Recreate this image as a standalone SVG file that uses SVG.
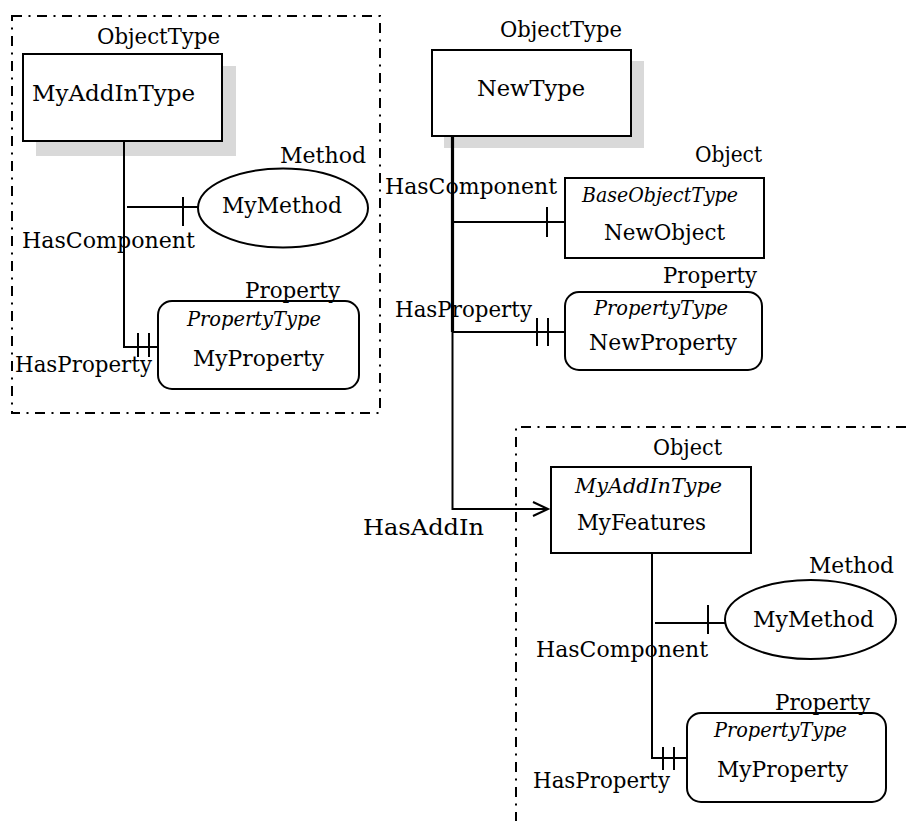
<svg xmlns="http://www.w3.org/2000/svg" width="906" height="821" viewBox="0 0 906 821">
<style>
  .t { font-family: "DejaVu Serif", "Liberation Serif", serif; font-size: 23px; fill: #000; }
  .i { font-family: "DejaVu Serif", "Liberation Serif", serif; font-size: 20px; font-style: italic; fill: #000; }
  .box { fill: #fff; stroke: #000; stroke-width: 2; }
  .shadow { fill: #d9d9d9; stroke: none; }
  .frame { fill: none; stroke: #000; stroke-width: 2; stroke-dasharray: 10 6.5 2 6.5; }
  .ln { fill: none; stroke: #000; stroke-width: 2; }
  .trunk { fill: none; stroke: #000; stroke-width: 3.2; }
</style>
<defs>
  <marker id="open" markerWidth="20" markerHeight="20" refX="16" refY="8" orient="auto" markerUnits="userSpaceOnUse">
    <path d="M1 1 L16 8 L1 15" fill="none" stroke="#000" stroke-width="2"/>
  </marker>
</defs>
<rect fill="#fff" x="0" y="0" width="906" height="821"/>

<!-- frames -->
<g id="frame-left">
  <rect class="frame" x="12" y="16" width="368" height="397"/>
</g>
<g id="frame-right">
  <path class="frame" d="M906 427 H516 V821"/>
</g>

<!-- left group nodes -->
<g id="node-myaddintype">
  <rect class="shadow" x="36" y="66" width="200" height="90"/>
  <rect class="box" x="23" y="54" width="199" height="87"/>
  <text class="t" x="97" y="44" textLength="123" lengthAdjust="spacingAndGlyphs">ObjectType</text>
  <text class="t" x="32" y="101" textLength="163" lengthAdjust="spacingAndGlyphs">MyAddInType</text>
</g>
<g id="node-mymethod-left">
  <ellipse class="box" cx="283" cy="208" rx="85" ry="39.5"/>
  <text class="t" x="280" y="163" textLength="86" lengthAdjust="spacingAndGlyphs">Method</text>
  <text class="t" x="222" y="213" textLength="120" lengthAdjust="spacingAndGlyphs">MyMethod</text>
</g>
<g id="node-myproperty-left">
  <rect class="box" x="158" y="301" width="201" height="88" rx="14" ry="14"/>
  <text class="t" x="245" y="298" textLength="95" lengthAdjust="spacingAndGlyphs">Property</text>
  <text class="i" x="187" y="326" textLength="134" lengthAdjust="spacingAndGlyphs">PropertyType</text>
  <text class="t" x="193" y="366" textLength="131" lengthAdjust="spacingAndGlyphs">MyProperty</text>
</g>

<!-- center group nodes -->
<g id="node-newtype">
  <rect class="shadow" x="444" y="61" width="200" height="87"/>
  <rect class="box" x="432" y="50" width="199" height="86"/>
  <text class="t" x="500" y="37" textLength="122" lengthAdjust="spacingAndGlyphs">ObjectType</text>
  <text class="t" x="477" y="96" textLength="108" lengthAdjust="spacingAndGlyphs">NewType</text>
</g>
<g id="node-newobject">
  <rect class="box" x="565" y="178" width="199" height="80"/>
  <text class="t" x="695" y="162" textLength="67" lengthAdjust="spacingAndGlyphs">Object</text>
  <text class="i" x="582" y="202" textLength="156" lengthAdjust="spacingAndGlyphs">BaseObjectType</text>
  <text class="t" x="604" y="240" textLength="121" lengthAdjust="spacingAndGlyphs">NewObject</text>
</g>
<g id="node-newproperty">
  <rect class="box" x="565" y="292" width="197" height="78" rx="14" ry="14"/>
  <text class="t" x="663" y="283" textLength="94" lengthAdjust="spacingAndGlyphs">Property</text>
  <text class="i" x="594" y="315" textLength="134" lengthAdjust="spacingAndGlyphs">PropertyType</text>
  <text class="t" x="589" y="350" textLength="148" lengthAdjust="spacingAndGlyphs">NewProperty</text>
</g>

<!-- bottom-right group nodes -->
<g id="node-myfeatures">
  <rect class="box" x="551" y="467" width="200" height="86"/>
  <text class="t" x="653" y="455" textLength="69" lengthAdjust="spacingAndGlyphs">Object</text>
  <text class="i" x="575" y="493" textLength="147" lengthAdjust="spacingAndGlyphs">MyAddInType</text>
  <text class="t" x="577" y="530" textLength="129" lengthAdjust="spacingAndGlyphs">MyFeatures</text>
</g>
<g id="node-mymethod-right">
  <ellipse class="box" cx="810.5" cy="619.5" rx="85.5" ry="39.5"/>
  <text class="t" x="809" y="573" textLength="85" lengthAdjust="spacingAndGlyphs">Method</text>
  <text class="t" x="753" y="627" textLength="121" lengthAdjust="spacingAndGlyphs">MyMethod</text>
</g>
<g id="node-myproperty-right">
  <rect class="box" x="687" y="713" width="199" height="89" rx="14" ry="14"/>
  <text class="t" x="775" y="710" textLength="95" lengthAdjust="spacingAndGlyphs">Property</text>
  <text class="i" x="714" y="737" textLength="133" lengthAdjust="spacingAndGlyphs">PropertyType</text>
  <text class="t" x="717" y="777" textLength="131" lengthAdjust="spacingAndGlyphs">MyProperty</text>
</g>

<!-- connectors -->
<g id="connectors">
  <!-- left group -->
  <path class="ln" d="M124 141 V347 H158"/>
  <path class="ln" d="M127 207 H198"/>
  <path class="ln" d="M183 197 V226"/>
  <path class="ln" d="M138 333 V357 M149 333 V357"/>
  <text class="t" x="22" y="248" textLength="173" lengthAdjust="spacingAndGlyphs">HasComponent</text>
  <text class="t" x="15" y="372" textLength="137" lengthAdjust="spacingAndGlyphs">HasProperty</text>

  <!-- center group -->
  <path class="trunk" d="M452.5 136 V332"/>
  <path class="ln" d="M452.5 136 V509 H548" stroke-width="2.6" marker-end="url(#open)"/>
  <path class="ln" d="M452 222 H565"/>
  <path class="ln" d="M547 207 V237"/>
  <path class="ln" d="M452 332 H565"/>
  <path class="ln" d="M537 318 V346 M548 318 V346"/>
  <text class="t" x="385" y="194" textLength="172" lengthAdjust="spacingAndGlyphs">HasComponent</text>
  <text class="t" x="395" y="317" textLength="137" lengthAdjust="spacingAndGlyphs">HasProperty</text>
  <text class="t" x="363" y="535" textLength="121" lengthAdjust="spacingAndGlyphs">HasAddIn</text>

  <!-- bottom-right group -->
  <path class="ln" d="M652 553 V758 H687"/>
  <path class="ln" d="M655 623 H725"/>
  <path class="ln" d="M708 605 V634"/>
  <path class="ln" d="M663 747 V770 M674 747 V770"/>
  <text class="t" x="536" y="657" textLength="172" lengthAdjust="spacingAndGlyphs">HasComponent</text>
  <text class="t" x="533" y="788" textLength="137" lengthAdjust="spacingAndGlyphs">HasProperty</text>
</g>
</svg>
